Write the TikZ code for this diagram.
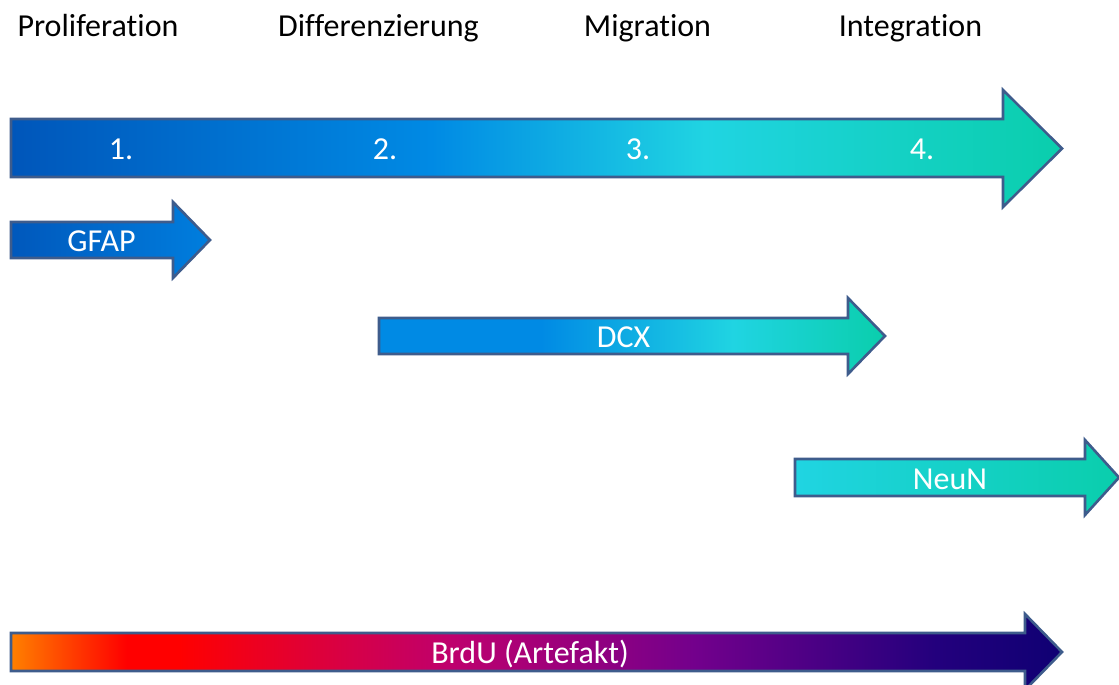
\documentclass[tikz,border=0pt]{standalone}
\usepackage{fontspec}
\setmainfont{Carlito}[Ligatures={NoCommon,NoRare,NoContextual}]
\usetikzlibrary{calc}

% palette
\definecolor{edge}{RGB}{62,92,140}
\definecolor{mA}{RGB}{0,86,186}
\definecolor{mB}{RGB}{0,138,228}
\definecolor{mC}{RGB}{32,212,226}
\definecolor{mD}{RGB}{10,206,172}
\definecolor{gA}{RGB}{0,88,188}
\definecolor{gB}{RGB}{0,126,222}
\definecolor{bA}{RGB}{255,128,0}
\definecolor{bB}{RGB}{255,0,0}
\definecolor{bC}{RGB}{215,0,70}
\definecolor{bD}{RGB}{190,0,110}
\definecolor{bE}{RGB}{115,0,140}
\definecolor{bF}{RGB}{35,0,125}
\definecolor{bG}{RGB}{15,0,115}

% the visible part of a path shading is 25bp..75bp
\pgfdeclarehorizontalshading{mainshade}{100bp}{color(0bp)=(mA); color(25bp)=(mA); color(45bp)=(mB); color(58bp)=(mC); color(75bp)=(mD); color(100bp)=(mD)}
\pgfdeclarehorizontalshading{gfapshade}{100bp}{color(0bp)=(gA); color(25bp)=(gA); color(75bp)=(gB); color(100bp)=(gB)}
\pgfdeclarehorizontalshading{dcxshade}{100bp}{color(0bp)=(mB); color(25bp)=(mB); color(41bp)=(mB); color(60bp)=(mC); color(75bp)=(mD); color(100bp)=(mD)}
\pgfdeclarehorizontalshading{neunshade}{100bp}{color(0bp)=(mC); color(25bp)=(mC); color(75bp)=(mD); color(100bp)=(mD)}
\pgfdeclarehorizontalshading{brdushade}{100bp}{color(0bp)=(bA); color(25bp)=(bA); color(30.5bp)=(bB); color(33bp)=(bB); color(41bp)=(bC); color(46bp)=(bD); color(57.5bp)=(bE); color(69bp)=(bF); color(75bp)=(bG); color(100bp)=(bG)}

\tikzset{
  arrowshape/.style={draw=edge, line width=2.6pt, line join=miter},
  phase/.style={font=\fontsize{32}{38}\selectfont, text=black, inner sep=0pt, anchor=base},
  inlabel/.style={font=\fontsize{32}{38}\selectfont, text=white, inner sep=0pt, anchor=base},
}

\begin{document}
\begin{tikzpicture}[x=1pt, y=-1pt]
\useasboundingbox (0,0) rectangle (1119,685);

% phase headings
\node[phase] (prolif) at (98,37)  {Proliferation};
\node[phase] (diff)   at (378.5,37) {Differenzierung};
\node[phase] (migr)   at (647.5,37) {Migration};
\node[phase] (integ)  at (910.5,37) {Integration};

% main timeline arrow
\path[arrowshape, shading=mainshade]
  (11,119) -- (1003,119) -- (1003,90) -- (1062,148.5) -- (1003,207) -- (1003,177) -- (11,177) -- cycle;
\node[inlabel] (s1) at (121,159) {1.};
\node[inlabel] (s2) at (385,159) {2.};
\node[inlabel] (s3) at (638,159) {3.};
\node[inlabel] (s4) at (922,159) {4.};

% GFAP
\path[arrowshape, shading=gfapshade]
  (11,222) -- (173,222) -- (173,202) -- (210,240) -- (173,278) -- (173,258) -- (11,258) -- cycle;
\node[inlabel] (gfap) at (101.5,251) {GFAP};

% DCX
\path[arrowshape, shading=dcxshade]
  (379,318) -- (848,318) -- (848,298) -- (885,336) -- (848,374) -- (848,354) -- (379,354) -- cycle;
\node[inlabel] (dcx) at (623.5,347) {DCX};

% NeuN
\path[arrowshape, shading=neunshade]
  (795,459) -- (1085,459) -- (1085,440) -- (1119,477.5) -- (1085,515) -- (1085,496) -- (795,496) -- cycle;
\node[inlabel] (neun) at (950,489) {NeuN};

% BrdU
\path[arrowshape, shading=brdushade]
  (11,633) -- (1025,633) -- (1025,614) -- (1062,652) -- (1025,690) -- (1025,671) -- (11,671) -- cycle;
\node[inlabel] (brdu) at (530,663) {BrdU (Artefakt)};
\end{tikzpicture}
\end{document}
